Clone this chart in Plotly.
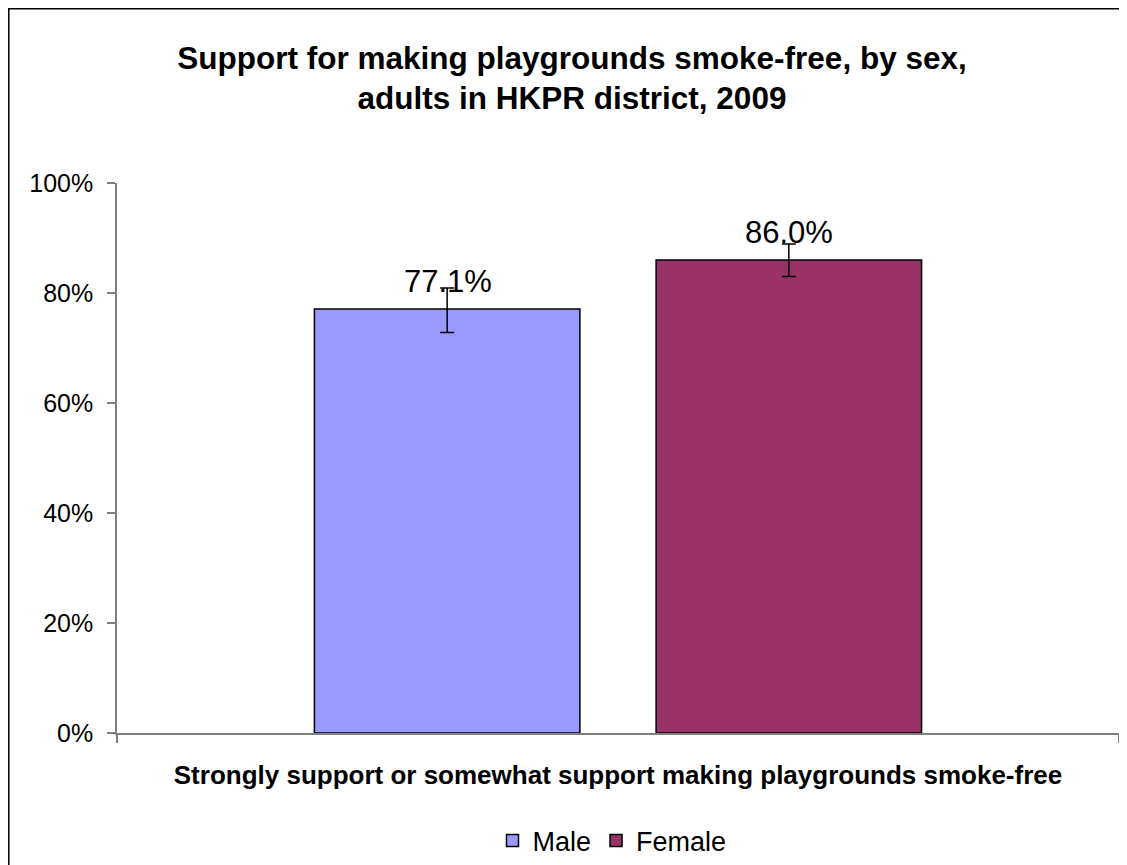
import plotly.graph_objects as go

categories = ["Strongly support or somewhat support making playgrounds smoke-free"]
series_names = ["Male", "Female"]
values = [77.1, 86.0]
err_plus = [3.8, 2.9]
err_minus = [4.3, 3.0]
label_texts = ["77.1%", "86.0%"]
colors = ["#9999FF", "#993366"]
y_ticks = [0, 20, 40, 60, 80, 100]

FONT = "Liberation Sans, Arial, sans-serif"
W, H = 1119, 857  # page body adds an 8px margin

fig = go.Figure()
for i, name in enumerate(series_names):
    fig.add_trace(go.Bar(
        name=name,
        x=categories,
        y=[values[i]],
        marker=dict(color=colors[i], line=dict(color="black", width=1.5)),
        error_y=dict(type="data", symmetric=False, array=[err_plus[i]],
                     arrayminus=[err_minus[i]], color="black", thickness=1.5, width=7),
    ))

slot_px = 341
for i, t in enumerate(label_texts):
    fig.add_annotation(
        x=categories[0], y=values[i], xref="x", yref="y",
        text=t, showarrow=False, yanchor="bottom",
        xshift=(i - 0.5) * slot_px, yshift=8,
        font=dict(family=FONT, size=31, color="black"),
    )

fig.add_shape(type="rect", xref="paper", yref="paper",
              x0=-0.108, x1=1.02, y0=-0.26, y1=1.3168,
              line=dict(color="black", width=1.5), fillcolor="rgba(0,0,0,0)", layer="below")

fig.update_layout(
    width=W, height=H,
    margin=dict(l=109, r=8, t=175, b=132),
    paper_bgcolor="white", plot_bgcolor="white",
    font=dict(family=FONT, color="black"),
    title=dict(
        text="<b>Support for making playgrounds smoke-free, by sex,<br>adults in HKPR district, 2009</b>",
        x=564 / W, xanchor="center", xref="container",
        y=1 - 60.5 / H, yanchor="middle", yref="container",
        font=dict(family=FONT, size=31.5, color="black"),
    ),
    barmode="group", bargap=0.318, bargroupgap=0.223,
    showlegend=True,
    legend=dict(orientation="h", x=604 / W, xanchor="center", xref="container",
                y=1 - 833 / H, yanchor="middle", yref="container",
                font=dict(family=FONT, size=27, color="black"), traceorder="normal"),
    xaxis=dict(
        automargin=False,
        showline=True, linecolor="#808080", linewidth=1.5,
        ticks="outside", tickson="boundaries", ticklen=8, tickcolor="#808080", tickwidth=1.5,
        tickfont=dict(family=FONT, size=26, color="black", weight="bold"),
        ticklabelstandoff=18,
        showgrid=False,
    ),
    yaxis=dict(
        automargin=False,
        range=[0, 100], tickvals=y_ticks, ticktext=[f"{v}%" for v in y_ticks],
        showline=True, linecolor="#808080", linewidth=1.5,
        ticks="outside", ticklen=8, tickcolor="#808080", tickwidth=1.5,
        tickfont=dict(family=FONT, size=25, color="black"),
        ticklabelstandoff=9,
        showgrid=False, zeroline=False,
    ),
)

fig.write_html("out.html")
